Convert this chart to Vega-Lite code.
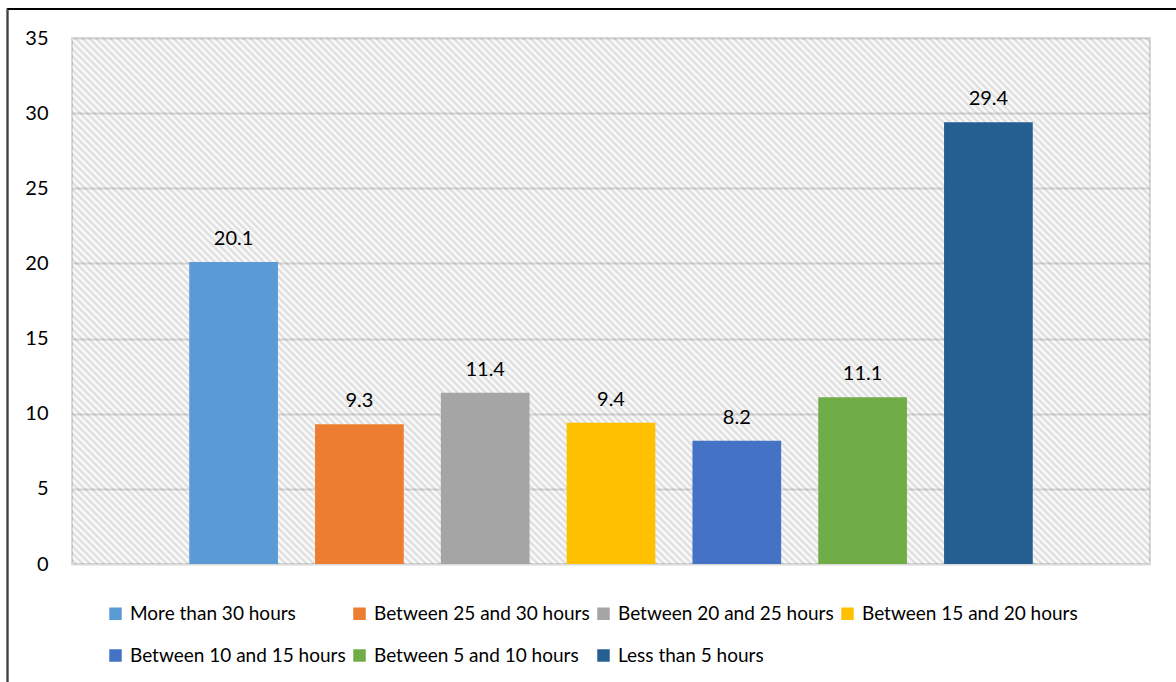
{
  "$schema": "https://vega.github.io/schema/vega-lite/v6.json",
  "width": 1078,
  "height": 526,
  "autosize": {"type": "none"},
  "padding": {"left": 72, "top": 38, "right": 26, "bottom": 118},
  "background": "#ffffff",
  "config": {
    "font": "Lato",
    "view": {"stroke": "#d9d9d9", "strokeWidth": 2},
    "axis": {
      "labelFont": "Lato",
      "labelFontSize": 20,
      "labelColor": "#000000",
      "domain": false,
      "ticks": false,
      "tickSize": 0,
      "gridColor": "#d9d9d9",
      "gridWidth": 2
    },
    "legend": {
      "labelFont": "Lato",
      "labelFontSize": 19,
      "labelColor": "#000000"
    }
  },
  "data": {
    "values": [
      {"hours": "More than 30 hours", "pct": 20.1},
      {"hours": "Between 25 and 30 hours", "pct": 9.3},
      {"hours": "Between 20 and 25 hours", "pct": 11.4},
      {"hours": "Between 15 and 20 hours", "pct": 9.4},
      {"hours": "Between 10 and 15 hours", "pct": 8.2},
      {"hours": "Between 5 and 10 hours", "pct": 11.1},
      {"hours": "Less than 5 hours", "pct": 29.4}
    ]
  },
  "layer": [
    {
      "data": {"values": [{}]},
      "mark": {
        "type": "rect",
        "fillOpacity": 0.14,
        "fill": {
          "gradient": "linear",
          "x1": -0.05468, "y1": 1.02668, "x2": 1.25649, "y2": 0.38691,
          "stops": [
{"offset":0.000,"color":"#000"},{"offset":0.002,"color":"#fff"},{"offset":0.004,"color":"#000"},{"offset":0.006,"color":"#fff"},{"offset":0.008,"color":"#000"},
{"offset":0.010,"color":"#fff"},{"offset":0.012,"color":"#000"},{"offset":0.014,"color":"#fff"},{"offset":0.016,"color":"#000"},{"offset":0.018,"color":"#fff"},
{"offset":0.020,"color":"#000"},{"offset":0.022,"color":"#fff"},{"offset":0.024,"color":"#000"},{"offset":0.026,"color":"#fff"},{"offset":0.028,"color":"#000"},
{"offset":0.030,"color":"#fff"},{"offset":0.032,"color":"#000"},{"offset":0.034,"color":"#fff"},{"offset":0.036,"color":"#000"},{"offset":0.038,"color":"#fff"},
{"offset":0.040,"color":"#000"},{"offset":0.042,"color":"#fff"},{"offset":0.044,"color":"#000"},{"offset":0.046,"color":"#fff"},{"offset":0.048,"color":"#000"},
{"offset":0.050,"color":"#fff"},{"offset":0.052,"color":"#000"},{"offset":0.054,"color":"#fff"},{"offset":0.056,"color":"#000"},{"offset":0.058,"color":"#fff"},
{"offset":0.060,"color":"#000"},{"offset":0.062,"color":"#fff"},{"offset":0.064,"color":"#000"},{"offset":0.066,"color":"#fff"},{"offset":0.068,"color":"#000"},
{"offset":0.070,"color":"#fff"},{"offset":0.072,"color":"#000"},{"offset":0.074,"color":"#fff"},{"offset":0.076,"color":"#000"},{"offset":0.078,"color":"#fff"},
{"offset":0.080,"color":"#000"},{"offset":0.082,"color":"#fff"},{"offset":0.084,"color":"#000"},{"offset":0.086,"color":"#fff"},{"offset":0.088,"color":"#000"},
{"offset":0.090,"color":"#fff"},{"offset":0.092,"color":"#000"},{"offset":0.094,"color":"#fff"},{"offset":0.096,"color":"#000"},{"offset":0.098,"color":"#fff"},
{"offset":0.100,"color":"#000"},{"offset":0.102,"color":"#fff"},{"offset":0.104,"color":"#000"},{"offset":0.106,"color":"#fff"},{"offset":0.108,"color":"#000"},
{"offset":0.110,"color":"#fff"},{"offset":0.112,"color":"#000"},{"offset":0.114,"color":"#fff"},{"offset":0.116,"color":"#000"},{"offset":0.118,"color":"#fff"},
{"offset":0.120,"color":"#000"},{"offset":0.122,"color":"#fff"},{"offset":0.124,"color":"#000"},{"offset":0.126,"color":"#fff"},{"offset":0.128,"color":"#000"},
{"offset":0.130,"color":"#fff"},{"offset":0.132,"color":"#000"},{"offset":0.134,"color":"#fff"},{"offset":0.136,"color":"#000"},{"offset":0.138,"color":"#fff"},
{"offset":0.140,"color":"#000"},{"offset":0.142,"color":"#fff"},{"offset":0.144,"color":"#000"},{"offset":0.146,"color":"#fff"},{"offset":0.148,"color":"#000"},
{"offset":0.150,"color":"#fff"},{"offset":0.152,"color":"#000"},{"offset":0.154,"color":"#fff"},{"offset":0.156,"color":"#000"},{"offset":0.158,"color":"#fff"},
{"offset":0.160,"color":"#000"},{"offset":0.162,"color":"#fff"},{"offset":0.164,"color":"#000"},{"offset":0.166,"color":"#fff"},{"offset":0.168,"color":"#000"},
{"offset":0.170,"color":"#fff"},{"offset":0.172,"color":"#000"},{"offset":0.174,"color":"#fff"},{"offset":0.176,"color":"#000"},{"offset":0.178,"color":"#fff"},
{"offset":0.180,"color":"#000"},{"offset":0.182,"color":"#fff"},{"offset":0.184,"color":"#000"},{"offset":0.186,"color":"#fff"},{"offset":0.188,"color":"#000"},
{"offset":0.190,"color":"#fff"},{"offset":0.192,"color":"#000"},{"offset":0.194,"color":"#fff"},{"offset":0.196,"color":"#000"},{"offset":0.198,"color":"#fff"},
{"offset":0.200,"color":"#000"},{"offset":0.202,"color":"#fff"},{"offset":0.204,"color":"#000"},{"offset":0.206,"color":"#fff"},{"offset":0.208,"color":"#000"},
{"offset":0.210,"color":"#fff"},{"offset":0.212,"color":"#000"},{"offset":0.214,"color":"#fff"},{"offset":0.216,"color":"#000"},{"offset":0.218,"color":"#fff"},
{"offset":0.220,"color":"#000"},{"offset":0.222,"color":"#fff"},{"offset":0.224,"color":"#000"},{"offset":0.226,"color":"#fff"},{"offset":0.228,"color":"#000"},
{"offset":0.230,"color":"#fff"},{"offset":0.232,"color":"#000"},{"offset":0.234,"color":"#fff"},{"offset":0.236,"color":"#000"},{"offset":0.238,"color":"#fff"},
{"offset":0.240,"color":"#000"},{"offset":0.242,"color":"#fff"},{"offset":0.244,"color":"#000"},{"offset":0.246,"color":"#fff"},{"offset":0.248,"color":"#000"},
{"offset":0.250,"color":"#fff"},{"offset":0.252,"color":"#000"},{"offset":0.254,"color":"#fff"},{"offset":0.256,"color":"#000"},{"offset":0.258,"color":"#fff"},
{"offset":0.260,"color":"#000"},{"offset":0.262,"color":"#fff"},{"offset":0.264,"color":"#000"},{"offset":0.266,"color":"#fff"},{"offset":0.268,"color":"#000"},
{"offset":0.270,"color":"#fff"},{"offset":0.272,"color":"#000"},{"offset":0.274,"color":"#fff"},{"offset":0.276,"color":"#000"},{"offset":0.278,"color":"#fff"},
{"offset":0.280,"color":"#000"},{"offset":0.282,"color":"#fff"},{"offset":0.284,"color":"#000"},{"offset":0.286,"color":"#fff"},{"offset":0.288,"color":"#000"},
{"offset":0.290,"color":"#fff"},{"offset":0.292,"color":"#000"},{"offset":0.294,"color":"#fff"},{"offset":0.296,"color":"#000"},{"offset":0.298,"color":"#fff"},
{"offset":0.300,"color":"#000"},{"offset":0.302,"color":"#fff"},{"offset":0.304,"color":"#000"},{"offset":0.306,"color":"#fff"},{"offset":0.308,"color":"#000"},
{"offset":0.310,"color":"#fff"},{"offset":0.312,"color":"#000"},{"offset":0.314,"color":"#fff"},{"offset":0.316,"color":"#000"},{"offset":0.318,"color":"#fff"},
{"offset":0.320,"color":"#000"},{"offset":0.322,"color":"#fff"},{"offset":0.324,"color":"#000"},{"offset":0.326,"color":"#fff"},{"offset":0.328,"color":"#000"},
{"offset":0.330,"color":"#fff"},{"offset":0.332,"color":"#000"},{"offset":0.334,"color":"#fff"},{"offset":0.336,"color":"#000"},{"offset":0.338,"color":"#fff"},
{"offset":0.340,"color":"#000"},{"offset":0.342,"color":"#fff"},{"offset":0.344,"color":"#000"},{"offset":0.346,"color":"#fff"},{"offset":0.348,"color":"#000"},
{"offset":0.350,"color":"#fff"},{"offset":0.352,"color":"#000"},{"offset":0.354,"color":"#fff"},{"offset":0.356,"color":"#000"},{"offset":0.358,"color":"#fff"},
{"offset":0.360,"color":"#000"},{"offset":0.362,"color":"#fff"},{"offset":0.364,"color":"#000"},{"offset":0.366,"color":"#fff"},{"offset":0.368,"color":"#000"},
{"offset":0.370,"color":"#fff"},{"offset":0.372,"color":"#000"},{"offset":0.374,"color":"#fff"},{"offset":0.376,"color":"#000"},{"offset":0.378,"color":"#fff"},
{"offset":0.380,"color":"#000"},{"offset":0.382,"color":"#fff"},{"offset":0.384,"color":"#000"},{"offset":0.386,"color":"#fff"},{"offset":0.388,"color":"#000"},
{"offset":0.390,"color":"#fff"},{"offset":0.392,"color":"#000"},{"offset":0.394,"color":"#fff"},{"offset":0.396,"color":"#000"},{"offset":0.398,"color":"#fff"},
{"offset":0.400,"color":"#000"},{"offset":0.402,"color":"#fff"},{"offset":0.404,"color":"#000"},{"offset":0.406,"color":"#fff"},{"offset":0.408,"color":"#000"},
{"offset":0.410,"color":"#fff"},{"offset":0.412,"color":"#000"},{"offset":0.414,"color":"#fff"},{"offset":0.416,"color":"#000"},{"offset":0.418,"color":"#fff"},
{"offset":0.420,"color":"#000"},{"offset":0.422,"color":"#fff"},{"offset":0.424,"color":"#000"},{"offset":0.426,"color":"#fff"},{"offset":0.428,"color":"#000"},
{"offset":0.430,"color":"#fff"},{"offset":0.432,"color":"#000"},{"offset":0.434,"color":"#fff"},{"offset":0.436,"color":"#000"},{"offset":0.438,"color":"#fff"},
{"offset":0.440,"color":"#000"},{"offset":0.442,"color":"#fff"},{"offset":0.444,"color":"#000"},{"offset":0.446,"color":"#fff"},{"offset":0.448,"color":"#000"},
{"offset":0.450,"color":"#fff"},{"offset":0.452,"color":"#000"},{"offset":0.454,"color":"#fff"},{"offset":0.456,"color":"#000"},{"offset":0.458,"color":"#fff"},
{"offset":0.460,"color":"#000"},{"offset":0.462,"color":"#fff"},{"offset":0.464,"color":"#000"},{"offset":0.466,"color":"#fff"},{"offset":0.468,"color":"#000"},
{"offset":0.470,"color":"#fff"},{"offset":0.472,"color":"#000"},{"offset":0.474,"color":"#fff"},{"offset":0.476,"color":"#000"},{"offset":0.478,"color":"#fff"},
{"offset":0.480,"color":"#000"},{"offset":0.482,"color":"#fff"},{"offset":0.484,"color":"#000"},{"offset":0.486,"color":"#fff"},{"offset":0.488,"color":"#000"},
{"offset":0.490,"color":"#fff"},{"offset":0.492,"color":"#000"},{"offset":0.494,"color":"#fff"},{"offset":0.496,"color":"#000"},{"offset":0.498,"color":"#fff"},
{"offset":0.500,"color":"#000"},{"offset":0.502,"color":"#fff"},{"offset":0.504,"color":"#000"},{"offset":0.506,"color":"#fff"},{"offset":0.508,"color":"#000"},
{"offset":0.510,"color":"#fff"},{"offset":0.512,"color":"#000"},{"offset":0.514,"color":"#fff"},{"offset":0.516,"color":"#000"},{"offset":0.518,"color":"#fff"},
{"offset":0.520,"color":"#000"},{"offset":0.522,"color":"#fff"},{"offset":0.524,"color":"#000"},{"offset":0.526,"color":"#fff"},{"offset":0.528,"color":"#000"},
{"offset":0.530,"color":"#fff"},{"offset":0.532,"color":"#000"},{"offset":0.534,"color":"#fff"},{"offset":0.536,"color":"#000"},{"offset":0.538,"color":"#fff"},
{"offset":0.540,"color":"#000"},{"offset":0.542,"color":"#fff"},{"offset":0.544,"color":"#000"},{"offset":0.546,"color":"#fff"},{"offset":0.548,"color":"#000"},
{"offset":0.550,"color":"#fff"},{"offset":0.552,"color":"#000"},{"offset":0.554,"color":"#fff"},{"offset":0.556,"color":"#000"},{"offset":0.558,"color":"#fff"},
{"offset":0.560,"color":"#000"},{"offset":0.562,"color":"#fff"},{"offset":0.564,"color":"#000"},{"offset":0.566,"color":"#fff"},{"offset":0.568,"color":"#000"},
{"offset":0.570,"color":"#fff"},{"offset":0.572,"color":"#000"},{"offset":0.574,"color":"#fff"},{"offset":0.576,"color":"#000"},{"offset":0.578,"color":"#fff"},
{"offset":0.580,"color":"#000"},{"offset":0.582,"color":"#fff"},{"offset":0.584,"color":"#000"},{"offset":0.586,"color":"#fff"},{"offset":0.588,"color":"#000"},
{"offset":0.590,"color":"#fff"},{"offset":0.592,"color":"#000"},{"offset":0.594,"color":"#fff"},{"offset":0.596,"color":"#000"},{"offset":0.598,"color":"#fff"},
{"offset":0.600,"color":"#000"},{"offset":0.602,"color":"#fff"},{"offset":0.604,"color":"#000"},{"offset":0.606,"color":"#fff"},{"offset":0.608,"color":"#000"},
{"offset":0.610,"color":"#fff"},{"offset":0.612,"color":"#000"},{"offset":0.614,"color":"#fff"},{"offset":0.616,"color":"#000"},{"offset":0.618,"color":"#fff"},
{"offset":0.620,"color":"#000"},{"offset":0.622,"color":"#fff"},{"offset":0.624,"color":"#000"},{"offset":0.626,"color":"#fff"},{"offset":0.628,"color":"#000"},
{"offset":0.630,"color":"#fff"},{"offset":0.632,"color":"#000"},{"offset":0.634,"color":"#fff"},{"offset":0.636,"color":"#000"},{"offset":0.638,"color":"#fff"},
{"offset":0.640,"color":"#000"},{"offset":0.642,"color":"#fff"},{"offset":0.644,"color":"#000"},{"offset":0.646,"color":"#fff"},{"offset":0.648,"color":"#000"},
{"offset":0.650,"color":"#fff"},{"offset":0.652,"color":"#000"},{"offset":0.654,"color":"#fff"},{"offset":0.656,"color":"#000"},{"offset":0.658,"color":"#fff"},
{"offset":0.660,"color":"#000"},{"offset":0.662,"color":"#fff"},{"offset":0.664,"color":"#000"},{"offset":0.666,"color":"#fff"},{"offset":0.668,"color":"#000"},
{"offset":0.670,"color":"#fff"},{"offset":0.672,"color":"#000"},{"offset":0.674,"color":"#fff"},{"offset":0.676,"color":"#000"},{"offset":0.678,"color":"#fff"},
{"offset":0.680,"color":"#000"},{"offset":0.682,"color":"#fff"},{"offset":0.684,"color":"#000"},{"offset":0.686,"color":"#fff"},{"offset":0.688,"color":"#000"},
{"offset":0.690,"color":"#fff"},{"offset":0.692,"color":"#000"},{"offset":0.694,"color":"#fff"},{"offset":0.696,"color":"#000"},{"offset":0.698,"color":"#fff"},
{"offset":0.700,"color":"#000"},{"offset":0.702,"color":"#fff"},{"offset":0.704,"color":"#000"},{"offset":0.706,"color":"#fff"},{"offset":0.708,"color":"#000"},
{"offset":0.710,"color":"#fff"},{"offset":0.712,"color":"#000"},{"offset":0.714,"color":"#fff"},{"offset":0.716,"color":"#000"},{"offset":0.718,"color":"#fff"},
{"offset":0.720,"color":"#000"},{"offset":0.722,"color":"#fff"},{"offset":0.724,"color":"#000"},{"offset":0.726,"color":"#fff"},{"offset":0.728,"color":"#000"},
{"offset":0.730,"color":"#fff"},{"offset":0.732,"color":"#000"},{"offset":0.734,"color":"#fff"},{"offset":0.736,"color":"#000"},{"offset":0.738,"color":"#fff"},
{"offset":0.740,"color":"#000"},{"offset":0.742,"color":"#fff"},{"offset":0.744,"color":"#000"},{"offset":0.746,"color":"#fff"},{"offset":0.748,"color":"#000"},
{"offset":0.750,"color":"#fff"},{"offset":0.752,"color":"#000"},{"offset":0.754,"color":"#fff"},{"offset":0.756,"color":"#000"},{"offset":0.758,"color":"#fff"},
{"offset":0.760,"color":"#000"},{"offset":0.762,"color":"#fff"},{"offset":0.764,"color":"#000"},{"offset":0.766,"color":"#fff"},{"offset":0.768,"color":"#000"},
{"offset":0.770,"color":"#fff"},{"offset":0.772,"color":"#000"},{"offset":0.774,"color":"#fff"},{"offset":0.776,"color":"#000"},{"offset":0.778,"color":"#fff"},
{"offset":0.780,"color":"#000"},{"offset":0.782,"color":"#fff"},{"offset":0.784,"color":"#000"},{"offset":0.786,"color":"#fff"},{"offset":0.788,"color":"#000"},
{"offset":0.790,"color":"#fff"},{"offset":0.792,"color":"#000"},{"offset":0.794,"color":"#fff"},{"offset":0.796,"color":"#000"},{"offset":0.798,"color":"#fff"},
{"offset":0.800,"color":"#000"},{"offset":0.802,"color":"#fff"},{"offset":0.804,"color":"#000"},{"offset":0.806,"color":"#fff"},{"offset":0.808,"color":"#000"},
{"offset":0.810,"color":"#fff"},{"offset":0.812,"color":"#000"},{"offset":0.814,"color":"#fff"},{"offset":0.816,"color":"#000"},{"offset":0.818,"color":"#fff"},
{"offset":0.820,"color":"#000"},{"offset":0.822,"color":"#fff"},{"offset":0.824,"color":"#000"},{"offset":0.826,"color":"#fff"},{"offset":0.828,"color":"#000"},
{"offset":0.830,"color":"#fff"},{"offset":0.832,"color":"#000"},{"offset":0.834,"color":"#fff"},{"offset":0.836,"color":"#000"},{"offset":0.838,"color":"#fff"},
{"offset":0.840,"color":"#000"},{"offset":0.842,"color":"#fff"},{"offset":0.844,"color":"#000"},{"offset":0.846,"color":"#fff"},{"offset":0.848,"color":"#000"},
{"offset":0.850,"color":"#fff"},{"offset":0.852,"color":"#000"},{"offset":0.854,"color":"#fff"},{"offset":0.856,"color":"#000"},{"offset":0.858,"color":"#fff"},
{"offset":0.860,"color":"#000"},{"offset":0.862,"color":"#fff"},{"offset":0.864,"color":"#000"},{"offset":0.866,"color":"#fff"},{"offset":0.868,"color":"#000"},
{"offset":0.870,"color":"#fff"},{"offset":0.872,"color":"#000"},{"offset":0.874,"color":"#fff"},{"offset":0.876,"color":"#000"},{"offset":0.878,"color":"#fff"},
{"offset":0.880,"color":"#000"},{"offset":0.882,"color":"#fff"},{"offset":0.884,"color":"#000"},{"offset":0.886,"color":"#fff"},{"offset":0.888,"color":"#000"},
{"offset":0.890,"color":"#fff"},{"offset":0.892,"color":"#000"},{"offset":0.894,"color":"#fff"},{"offset":0.896,"color":"#000"},{"offset":0.898,"color":"#fff"},
{"offset":0.900,"color":"#000"},{"offset":0.902,"color":"#fff"},{"offset":0.904,"color":"#000"},{"offset":0.906,"color":"#fff"},{"offset":0.908,"color":"#000"},
{"offset":0.910,"color":"#fff"},{"offset":0.912,"color":"#000"},{"offset":0.914,"color":"#fff"},{"offset":0.916,"color":"#000"},{"offset":0.918,"color":"#fff"},
{"offset":0.920,"color":"#000"},{"offset":0.922,"color":"#fff"},{"offset":0.924,"color":"#000"},{"offset":0.926,"color":"#fff"},{"offset":0.928,"color":"#000"},
{"offset":0.930,"color":"#fff"},{"offset":0.932,"color":"#000"},{"offset":0.934,"color":"#fff"},{"offset":0.936,"color":"#000"},{"offset":0.938,"color":"#fff"},
{"offset":0.940,"color":"#000"},{"offset":0.942,"color":"#fff"},{"offset":0.944,"color":"#000"},{"offset":0.946,"color":"#fff"},{"offset":0.948,"color":"#000"},
{"offset":0.950,"color":"#fff"},{"offset":0.952,"color":"#000"},{"offset":0.954,"color":"#fff"},{"offset":0.956,"color":"#000"},{"offset":0.958,"color":"#fff"},
{"offset":0.960,"color":"#000"},{"offset":0.962,"color":"#fff"},{"offset":0.964,"color":"#000"},{"offset":0.966,"color":"#fff"},{"offset":0.968,"color":"#000"},
{"offset":0.970,"color":"#fff"},{"offset":0.972,"color":"#000"},{"offset":0.974,"color":"#fff"},{"offset":0.976,"color":"#000"},{"offset":0.978,"color":"#fff"},
{"offset":0.980,"color":"#000"},{"offset":0.982,"color":"#fff"},{"offset":0.984,"color":"#000"},{"offset":0.986,"color":"#fff"},{"offset":0.988,"color":"#000"},
{"offset":0.990,"color":"#fff"},{"offset":0.992,"color":"#000"},{"offset":0.994,"color":"#fff"},{"offset":0.996,"color":"#000"},{"offset":0.998,"color":"#fff"},
{"offset":1.000,"color":"#000"}
          ]
        }
      },
      "encoding": {
        "y": {"datum": 0, "type": "quantitative"},
        "y2": {"datum": 35}
      }
    },
    {
      "mark": {"type": "bar"},
      "encoding": {
        "x": {
          "field": "hours",
          "type": "nominal",
          "sort": null,
          "axis": null,
          "scale": {"paddingInner": 0.295, "paddingOuter": 0.932}
        },
        "y": {
          "field": "pct",
          "type": "quantitative",
          "scale": {"domain": [0, 35], "nice": false},
          "axis": {
            "title": null,
            "values": [0, 5, 10, 15, 20, 25, 30, 35],
            "labelPadding": 24,
            "grid": true
          }
        },
        "color": {
          "field": "hours",
          "type": "nominal",
          "sort": null,
          "scale": {
            "domain": ["More than 30 hours", "Between 25 and 30 hours", "Between 20 and 25 hours", "Between 15 and 20 hours", "Between 10 and 15 hours", "Between 5 and 10 hours", "Less than 5 hours"],
            "range": ["#5b9bd5", "#ed7d31", "#a5a5a5", "#ffc000", "#4472c4", "#70ad47", "#255e91"]
          },
          "legend": {
            "title": null,
            "orient": "none",
            "direction": "horizontal",
            "legendX": 34,
            "legendY": 566,
            "columns": 4,
            "symbolType": "square",
            "symbolSize": 156,
            "symbolStrokeWidth": 0,
            "labelOffset": 5,
            "labelLimit": 400,
            "columnPadding": 4,
            "rowPadding": 22,
            "padding": 0
          }
        }
      }
    },
    {
      "mark": {"type": "text", "baseline": "alphabetic", "dy": -17, "fontSize": 20, "font": "Lato", "color": "#000000"},
      "encoding": {
        "x": {"field": "hours", "type": "nominal", "sort": null},
        "y": {"field": "pct", "type": "quantitative"},
        "text": {"field": "pct", "type": "quantitative", "format": ".1f"}
      }
    },
    {
      "data": {"values": [{}]},
      "mark": {"type": "point", "opacity": 0},
      "encoding": {
        "shape": {
          "datum": " ",
          "type": "nominal",
          "legend": {
            "title": null,
            "orient": "none",
            "legendX": -64.5,
            "legendY": -29,
            "padding": 900,
            "strokeColor": "#000000",
            "symbolOpacity": 0,
            "labelOpacity": 0
          }
        },
        "strokeDash": {
          "datum": "  ",
          "type": "nominal",
          "legend": {
            "title": null,
            "orient": "none",
            "legendX": -65.5,
            "legendY": -30,
            "padding": 900,
            "strokeColor": "#000000",
            "symbolOpacity": 0,
            "labelOpacity": 0
          }
        }
      }
    }
  ]
}
